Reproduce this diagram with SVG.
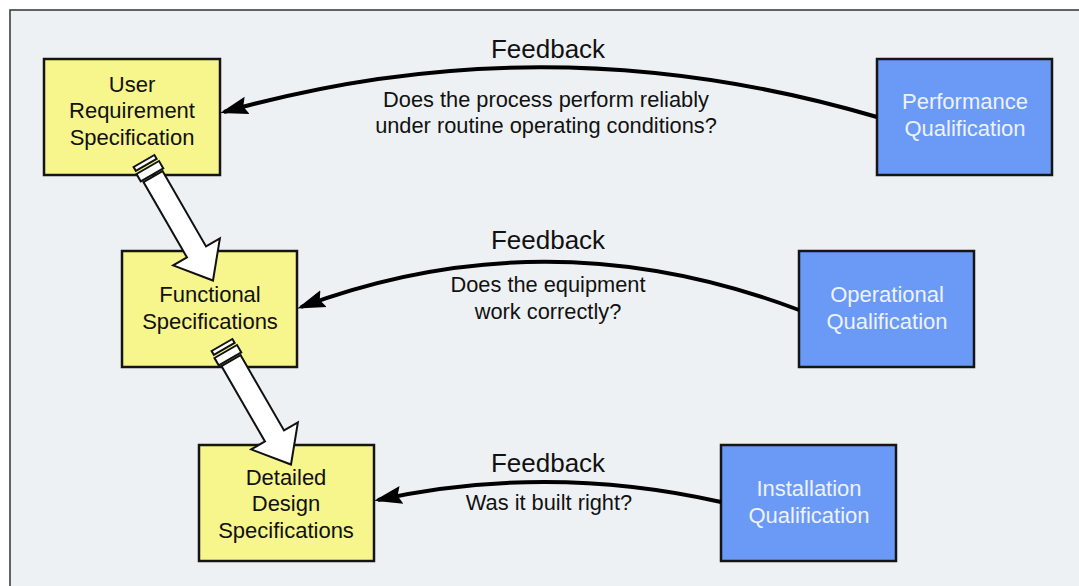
<svg xmlns="http://www.w3.org/2000/svg" width="1079" height="586" viewBox="0 0 1079 586">
<style>
.frame{fill:#eef1f4;stroke:none}
.edge{stroke:#333;stroke-width:1.5;fill:none}
.req{fill:#f6f68c;stroke:#151515;stroke-width:2.5}
.qual{fill:#6a9af6;stroke:#151515;stroke-width:2.5}
.t{font-family:"Liberation Sans",Arial,sans-serif;font-size:22px;text-anchor:middle}
.dark{fill:#111}
.light{fill:#eef2fc}
.fb{font-family:"Liberation Sans",Arial,sans-serif;font-size:26px;text-anchor:middle;fill:#111}
.q{font-family:"Liberation Sans",Arial,sans-serif;font-size:21.8px;text-anchor:middle;fill:#111}
.conn{fill:none;stroke:#000;stroke-width:4;marker-end:url(#ah)}
.blk{fill:#fff;stroke:#111;stroke-width:2;stroke-linejoin:miter}
</style>
<defs>
<marker id="ah" markerUnits="userSpaceOnUse" markerWidth="32" markerHeight="22" viewBox="0 -11 32 22" refX="24" refY="0" orient="auto">
<path d="M0,-9 L28,0 L0,9 L4,0 Z" fill="#000"/>
</marker>
<g id="blockArrow">
<rect class="blk" x="0" y="-12" width="4.5" height="24"/>
<rect class="blk" x="7.5" y="-13" width="8.5" height="26"/>
<path class="blk" d="M18,-11 L105,-11 L105,-27 L138,0 L105,27 L105,11 L18,11 Z"/>
</g>
</defs>
<rect x="0" y="0" width="1079" height="586" fill="#fff"/>
<rect class="frame" x="10" y="10" width="1069" height="576"/>
<path class="edge" d="M10,586 L10,10 L1079,10"/>

<g id="node-urs">
<rect class="req" x="44" y="59" width="176" height="116"/>
<text class="t dark" x="132" y="92">User</text>
<text class="t dark" x="132" y="118">Requirement</text>
<text class="t dark" x="132" y="145">Specification</text>
</g>
<g id="node-fs">
<rect class="req" x="122" y="251" width="175" height="116"/>
<text class="t dark" x="210" y="302">Functional</text>
<text class="t dark" x="210" y="329">Specifications</text>
</g>
<g id="node-dds">
<rect class="req" x="199" y="445" width="175" height="116"/>
<text class="t dark" x="286" y="485">Detailed</text>
<text class="t dark" x="286" y="511">Design</text>
<text class="t dark" x="286" y="538">Specifications</text>
</g>
<g id="node-pq">
<rect class="qual" x="877" y="59" width="175" height="116"/>
<text class="t light" x="965" y="109">Performance</text>
<text class="t light" x="965" y="136">Qualification</text>
</g>
<g id="node-oq">
<rect class="qual" x="799" y="251" width="175" height="116"/>
<text class="t light" x="887" y="302">Operational</text>
<text class="t light" x="887" y="329">Qualification</text>
</g>
<g id="node-iq">
<rect class="qual" x="721" y="445" width="175" height="116"/>
<text class="t light" x="809" y="496">Installation</text>
<text class="t light" x="809" y="523">Qualification</text>
</g>

<g id="connectors">
<path class="conn" d="M877,117 Q548,20 224,112"/>
<path class="conn" d="M799,310 Q548,215 301,307"/>
<path class="conn" d="M721,502 Q548,463 378,500"/>
<use href="#blockArrow" transform="translate(144,161) rotate(60)"/>
<use href="#blockArrow" transform="translate(222,345) rotate(60)"/>
</g>

<g id="labels">
<text class="fb" x="548" y="58">Feedback</text>
<text class="q" x="546" y="107">Does the process perform reliably</text>
<text class="q" x="546" y="133">under routine operating conditions?</text>
<text class="fb" x="548" y="249">Feedback</text>
<text class="q" x="548" y="292">Does the equipment</text>
<text class="q" x="548" y="319">work correctly?</text>
<text class="fb" x="548" y="472">Feedback</text>
<text class="q" x="549" y="510">Was it built right?</text>
</g>
</svg>
